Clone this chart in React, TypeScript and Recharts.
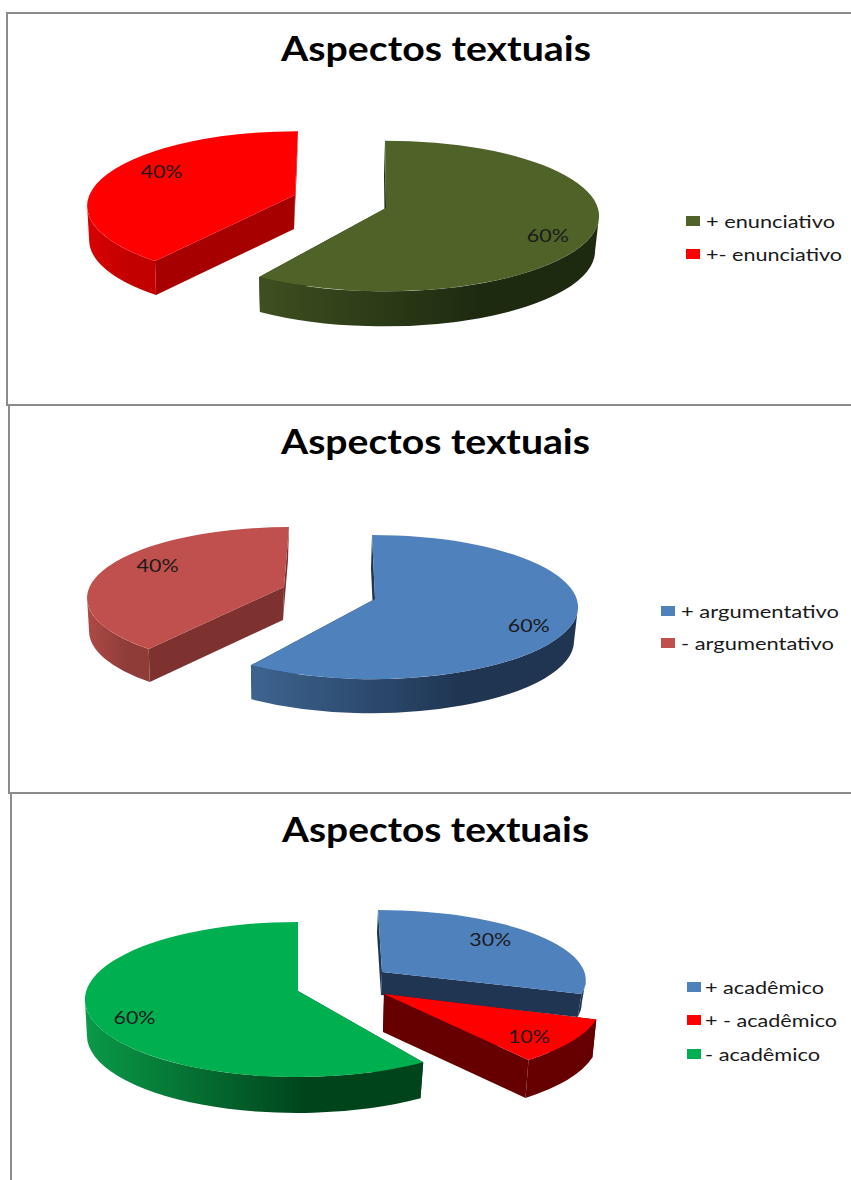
import { Legend, Pie, PieChart } from "recharts";

// chart values
const enunciativoNames = ["+ enunciativo", "+- enunciativo"];
const enunciativoValues = [60, 40];
const argumentativoNames = ["+ argumentativo", "- argumentativo"];
const argumentativoValues = [60, 40];
const academicoNames = ["+ acadêmico", "+ - acadêmico", "- acadêmico"];
const academicoValues = [30, 10, 60];

const TITLE = "Aspectos textuais";
const FONT = "Lato, 'Open Sans', sans-serif";

type SliceLook = {
  top: string;
  wallFrom: string;
  wallTo: string;
  flat: string;
  dx: number; // explosion
  dy: number;
  scale: number;
  squash: number;
  depth: number;
  apexX: number;
  apexY: number;
  leanStart: number;
  leanEnd: number;
  labelLean: number;
};

const enunciativoLook: SliceLook[] = [
  { top: "#4F6228", wallFrom: "#3E4F20", wallTo: "#1E2A10", flat: "#1E2A10", dx: 44, dy: 6, scale: 1.005, squash: 0.352, depth: 35, apexX: 1, apexY: -8, leanStart: 0, leanEnd: 0, labelLean: 0 },
  { top: "#FF0000", wallFrom: "#D80000", wallTo: "#C20000", flat: "#A60000", dx: -43, dy: -4, scale: 0.99, squash: 0.355, depth: 34, apexX: -3, apexY: -11, leanStart: 6.7, leanEnd: 0, labelLean: 18 },
];
const argumentativoLook: SliceLook[] = [
  { top: "#4F81BD", wallFrom: "#3D6490", wallTo: "#1F3552", flat: "#1F3552", dx: 42, dy: 5, scale: 1.01, squash: 0.35, depth: 34, apexX: 3, apexY: -8, leanStart: 0, leanEnd: 0, labelLean: 0 },
  { top: "#C0504D", wallFrom: "#AE4A46", wallTo: "#8F3C39", flat: "#7E3230", dx: -41, dy: -4, scale: 0.99, squash: 0.351, depth: 33, apexX: -5, apexY: -11, leanStart: 8, leanEnd: 0, labelLean: 17.6 },
];
const academicoLook: SliceLook[] = [
  { top: "#4F81BD", wallFrom: "#1F3552", wallTo: "#1F3552", flat: "#1F3552", dx: 38, dy: -20, scale: 0.98, squash: 0.337, depth: 23, apexX: 4, apexY: -8, leanStart: 0, leanEnd: -6.5, labelLean: -11.5 },
  { top: "#FF0000", wallFrom: "#660000", wallTo: "#660000", flat: "#660000", dx: 40, dy: 2, scale: 1.047, squash: 0.351, depth: 38, apexX: 4, apexY: -8, leanStart: -5, leanEnd: -6, labelLean: -3 },
  { top: "#00B050", wallFrom: "#0A9A48", wallTo: "#00441C", flat: "#00441C", dx: -42, dy: -0.5, scale: 1.005, squash: 0.364, depth: 36, apexX: 0, apexY: -8.5, leanStart: 0, leanEnd: 0, labelLean: 1.6 },
];

const rad = (deg: number) => (deg * Math.PI) / 180;

function makeSliceShape(looks: SliceLook[], id: string) {
  return function SliceShape(props: any) {
    const { cx, cy, outerRadius, startAngle, endAngle, index } = props;
    const look = looks[index];
    const rx = outerRadius * look.scale;
    const ry = rx * look.squash;
    const ex = cx + look.dx;
    const ey = cy + look.dy;
    const a0 = 90 - startAngle + look.leanStart;
    const a1 = 90 - endAngle + look.leanEnd;
    const at = (a: number) => `${ex + rx * Math.sin(rad(a))} ${ey - ry * Math.cos(rad(a))}`;
    const floor = (a: number) =>
      `${ex - 1 + (rx - 3) * Math.sin(rad(a))} ${ey + look.depth - ry * Math.cos(rad(a))}`;
    const apex = `${ex + look.apexX} ${ey + look.apexY}`;
    const apexFloor = `${ex + look.apexX - 1} ${ey + look.apexY + look.depth}`;
    const b0 = Math.max(a0, 90);
    const b1 = Math.min(a1, 270);
    const large = a1 - a0 > 180 ? 1 : 0;
    const gradId = `wall-${id}-${index}`;
    const x0 = ex + rx * Math.min(Math.sin(rad(b0)), Math.sin(rad(b1)));
    const x1 = ex + rx * Math.max(Math.sin(rad(b0)), Math.sin(rad(b1)));

    return (
      <g>
        <defs>
          <linearGradient id={gradId} gradientUnits="userSpaceOnUse" x1={x0} x2={x1} y1={0} y2={0}>
            <stop offset="0" stopColor={look.wallFrom} />
            <stop offset="0.65" stopColor={look.wallTo} />
            <stop offset="1" stopColor={look.wallTo} />
          </linearGradient>
        </defs>
        <path d={`M${apex} L${at(a0)} L${floor(a0)} L${apexFloor} Z`} fill={look.flat} />
        <path d={`M${apex} L${at(a1)} L${floor(a1)} L${apexFloor} Z`} fill={look.flat} />
        {b1 > b0 && (
          <path
            d={`M${at(b0)} A${rx} ${ry} 0 0 1 ${at(b1)} L${floor(b1)} A${rx - 3} ${ry} 0 0 0 ${floor(b0)} Z`}
            fill={`url(#${gradId})`}
          />
        )}
        <path d={`M${apex} L${at(a0)} A${rx} ${ry} 0 ${large} 1 ${at(a1)} Z`} fill={look.top} />
      </g>
    );
  };
}

function makeLabel(looks: SliceLook[]) {
  return function SliceLabel(props: any) {
    const { cx, cy, outerRadius, midAngle, index, value } = props;
    const look = looks[index];
    const rx = outerRadius * look.scale;
    const ry = rx * look.squash;
    const a = rad(90 - midAngle + look.labelLean);
    return (
      <text
        x={cx + look.dx + 0.8 * rx * Math.sin(a)}
        y={cy + look.dy - 0.8 * ry * Math.cos(a)}
        textAnchor="middle"
        dominantBaseline="central"
        fontFamily={FONT}
        fontSize={18}
        fill="#1a1a1a"
        textLength={42}
        lengthAdjust="spacingAndGlyphs"
      >
        {`${value}%`}
      </text>
    );
  };
}

function makeLegend(textLengths: number[], rowY: number[], textGap: number) {
  return function LegendRows({ payload }: any) {
    return (
      <svg width={190} height={rowY[rowY.length - 1] + 14} style={{ display: "block", overflow: "visible" }}>
        {(payload ?? []).map((entry: any, i: number) => (
          <g key={entry.value}>
            <rect x={0} y={rowY[i] - 5} width={14} height={10} fill={entry.color} />
            <text
              x={textGap}
              y={rowY[i]}
              dominantBaseline="central"
              fontFamily={FONT}
              fontSize={18}
              fill="#1a1a1a"
              textLength={textLengths[i]}
              lengthAdjust="spacingAndGlyphs"
            >
              {entry.value}
            </text>
          </g>
        ))}
      </svg>
    );
  };
}

function Panel({ id, top, height, frameTop, frameBottom, frameLeft, names, values, looks, cx, cy, radius, titleX, titleY, titleWidth, legendX, legendY, textLengths, textGap }: any) {
  const rows = names.map((name: string, i: number) => ({ name, value: values[i], fill: looks[i].top }));
  return (
    <div style={{ position: "absolute", left: 0, top, width: 851, height }}>
      <div
        style={{
          position: "absolute",
          left: frameLeft,
          top: frameTop,
          right: 0,
          height: frameBottom - frameTop,
          borderLeft: "2px solid #8c8c8c",
          borderTop: "2px solid #8c8c8c",
          borderBottom: frameBottom < height ? "2px solid #8c8c8c" : "none",
        }}
      />
      <div style={{ position: "absolute", left: 0, top: 0 }}>
        <PieChart width={851} height={height} margin={{ top: 0, right: 0, bottom: 0, left: 0 }}>
          <text
            x={titleX}
            y={titleY}
            dominantBaseline="central"
            fontFamily={FONT}
            fontWeight={700}
            fontSize={35}
            fill="#000"
            textLength={titleWidth}
            lengthAdjust="spacingAndGlyphs"
          >
            {TITLE}
          </text>
          <Pie
            data={rows}
            dataKey="value"
            nameKey="name"
            cx={cx}
            cy={cy}
            outerRadius={radius}
            startAngle={90}
            endAngle={-270}
            stroke="none"
            isAnimationActive={false}
            shape={makeSliceShape(looks, id)}
            label={makeLabel(looks)}
            labelLine={false}
          />
          <Legend
            itemSorter={null}
            content={makeLegend(textLengths, legendY, textGap)}
            wrapperStyle={{ position: "absolute", left: legendX, top: 0, width: 190, height: "auto" }}
          />
        </PieChart>
      </div>
    </div>
  );
}

export default function App() {
  return (
    <div style={{ position: "absolute", left: 0, top: 0, width: 851, height: 1180, overflow: "hidden", background: "#fff" }}>
      <Panel
        id="enunciativo" top={0} height={404} frameTop={12} frameBottom={404} frameLeft={6}
        names={enunciativoNames} values={enunciativoValues} looks={enunciativoLook}
        cx={341} cy={210} radius={213}
        titleX={281} titleY={47} titleWidth={310}
        legendX={686} legendY={[221, 254]} textLengths={[129, 136]} textGap={20}
      />
      <Panel
        id="argumentativo" top={404} height={388} frameTop={0} frameBottom={388} frameLeft={8}
        names={argumentativoNames} values={argumentativoValues} looks={argumentativoLook}
        cx={330} cy={198} radius={204}
        titleX={281} titleY={36} titleWidth={309}
        legendX={661} legendY={[207, 239]} textLengths={[158, 153]} textGap={20}
      />
      <Panel
        id="academico" top={792} height={388} frameTop={0} frameBottom={388} frameLeft={10}
        names={academicoNames} values={academicoValues} looks={academicoLook}
        cx={340} cy={208} radius={212}
        titleX={282} titleY={36} titleWidth={307}
        legendX={687} legendY={[195, 228, 262]} textLengths={[119, 132, 115]} textGap={18}
      />
    </div>
  );
}
